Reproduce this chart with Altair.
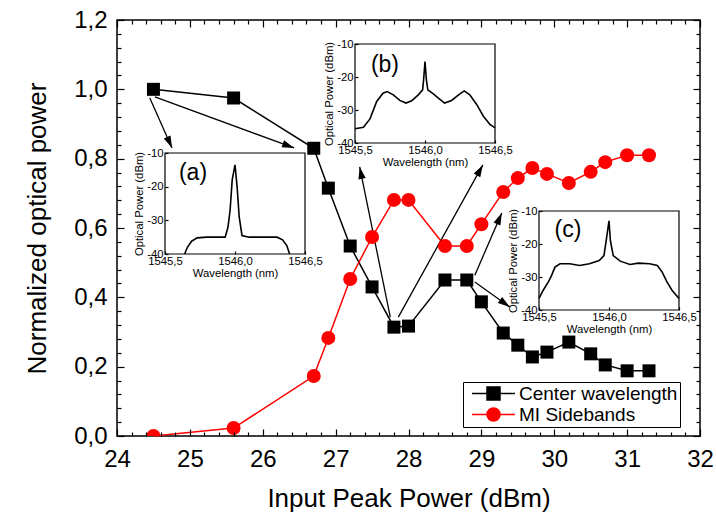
import math

import altair as alt
import pandas as pd

FONT = "Liberation Sans"

# ---------------------------------------------------------------------------
# Main panel: normalized optical power versus input peak power
# ---------------------------------------------------------------------------
input_power = [24.5, 25.6, 26.7, 26.9, 27.2, 27.5, 27.8, 28.0, 28.5, 28.8,
               29.0, 29.3, 29.5, 29.7, 29.9, 30.2, 30.5, 30.7, 31.0, 31.3]
center_wavelength = [1.0, 0.975, 0.83, 0.715, 0.548, 0.43, 0.314, 0.317, 0.45, 0.45,
                     0.387, 0.297, 0.262, 0.228, 0.242, 0.271, 0.237, 0.205, 0.188, 0.188]
mi_sidebands = [0.0, 0.023, 0.173, 0.283, 0.453, 0.574, 0.681, 0.681, 0.548, 0.548,
                0.611, 0.704, 0.744, 0.773, 0.756, 0.73, 0.762, 0.79, 0.81, 0.81]
series_names = ["Center wavelength", "MI Sidebands"]
series_colors = ["#000000", "#ff0000"]
series_shapes = ["square", "circle"]
series_sizes = [169, 196]

x_domain = [24, 32]
y_domain = [0, 1.2]
x_major = [24, 25, 26, 27, 28, 29, 30, 31, 32]
y_major = [0.0, 0.2, 0.4, 0.6, 0.8, 1.0, 1.2]
x_minor = [round(24 + 0.2 * i, 1) for i in range(41) if i % 5]
y_minor = [round(0.04 * i, 2) for i in range(31) if i % 5]

# Arrows linking measurement points to their spectra (axis units)
arrow_tail_x = [24.45, 24.52, 27.75, 27.86, 28.91, 28.91]
arrow_tail_y = [0.975, 0.978, 0.343, 0.343, 0.464, 0.444]
arrow_tip_x = [24.755, 26.43, 27.33, 29.02, 29.28, 29.39]
arrow_tip_y = [0.831, 0.831, 0.776, 0.782, 0.643, 0.372]

# ---------------------------------------------------------------------------
# Inset spectra (wavelength in nm, optical power in dBm)
# ---------------------------------------------------------------------------
inset_wl_domain = [1545.5, 1546.5]
inset_p_domain = [-40, -10]
inset_wl_ticks = [1545.5, 1546.0, 1546.5]
inset_p_ticks = [-40, -30, -20, -10]

wl_a = [1545.64, 1545.66, 1545.69, 1545.73, 1545.80, 1545.93, 1545.95, 1545.965,
        1545.98, 1546.0, 1546.015, 1546.03, 1546.05, 1546.10, 1546.30, 1546.34,
        1546.37, 1546.39]
p_a = [-40, -38, -36.2, -35.2, -35, -35, -32, -27, -18, -13.5, -20, -29, -34.5,
       -35, -35, -35.8, -37.5, -40]

wl_b = [1545.5, 1545.56, 1545.607, 1545.655, 1545.70, 1545.73, 1545.774, 1545.82,
        1545.864, 1545.905, 1545.952, 1545.983, 1545.99, 1546.0, 1546.01, 1546.02,
        1546.06, 1546.095, 1546.14, 1546.19, 1546.24, 1546.28, 1546.32, 1546.37,
        1546.417, 1546.464, 1546.5]
p_b = [-35.7, -35.2, -32.7, -27.4, -24.9, -24.4, -25.4, -27.1, -27.9, -27.2, -25.4,
       -23.9, -20.9, -15.3, -20.9, -23.9, -25.1, -26.4, -27.9, -27.1, -25.4, -24.2,
       -25.4, -28.4, -31.9, -34.4, -35.4]

wl_c = [1545.5, 1545.53, 1545.567, 1545.59, 1545.614, 1545.65, 1545.72, 1545.79,
        1545.86, 1545.93, 1545.964, 1545.98, 1546.0, 1546.01, 1546.03, 1546.08,
        1546.15, 1546.21, 1546.29, 1546.345, 1546.38, 1546.414, 1546.45, 1546.5]
p_c = [-36.5, -34, -31.5, -29.5, -27, -26, -26, -26.5, -26, -25, -23.5, -19, -13,
       -19, -23.5, -25.2, -26.2, -25.8, -26, -26.5, -28.5, -31.5, -34, -36.5]

# ---------------------------------------------------------------------------
# Layout
# ---------------------------------------------------------------------------
W, H = 583, 416
PAD = {"left": 117, "top": 20, "right": 16, "bottom": 81}

# inset boxes inside the plot area: left, top, right, bottom (pixels)
box_a = (48, 133, 188, 234)
box_b = (238, 24, 378, 123)
box_c = (422, 191, 562, 290)

COMMA_1F = "replace(format(datum.value, '.1f'), '.', ',')"

n = len(input_power)
main_df = pd.DataFrame({
    "power": input_power * 2,
    "value": center_wavelength + mi_sidebands,
    "series": [series_names[0]] * n + [series_names[1]] * n,
    "marker": [series_shapes[0]] * n + [series_shapes[1]] * n,
    "msize": [series_sizes[0]] * n + [series_sizes[1]] * n,
})

xs_main = alt.Scale(domain=x_domain, nice=False, zero=False)
ys_main = alt.Scale(domain=y_domain, nice=False, zero=False)
color_scale = alt.Scale(domain=series_names, range=series_colors)

# legend keys: a short line through the series marker
SQUARE_KEY = "M-3.3,0L3.3,0M-1,-1L1,-1L1,1L-1,1Z"
CIRCLE_KEY = "M-3.3,0L3.3,0M1,0A1,1,0,1,1,-1,0A1,1,0,1,1,1,0Z"
ARROW_HEAD = "M0,0L-0.62,2L0.62,2Z"

legend = alt.Legend(
    title=None,
    orient="none",
    legendX=346,
    legendY=362,
    symbolType=alt.ExprRef(expr=f"datum.value === '{series_names[0]}' ? '{SQUARE_KEY}' : '{CIRCLE_KEY}'"),
    symbolStrokeWidth=1.5,
    symbolSize=169,
    symbolOffset=19,
    labelOffset=16,
    labelFont=FONT,
    labelFontSize=19,
    labelColor="black",
    strokeColor="black",
    fillColor="white",
    padding=2,
    rowPadding=1,
)

x_main_axis = alt.Axis(
    orient="bottom", values=x_major, labelFlush=False, labelFontSize=24, labelPadding=11,
    ticks=False, tickSize=0, domain=False, grid=False,
    title="Input Peak Power (dBm)", titleFontSize=26, titlePadding=14,
)
y_main_axis = alt.Axis(
    orient="left", values=y_major, labelExpr=COMMA_1F, labelFontSize=24, labelPadding=10,
    ticks=False, tickSize=0, domain=False, grid=False,
    title="Normalized optical power", titleFontSize=26, titlePadding=23,
)

color_enc = alt.Color("series:N", scale=color_scale, legend=legend)

lines = alt.Chart(main_df).mark_line(strokeWidth=1.5).encode(
    x=alt.X("power:Q", scale=xs_main, axis=x_main_axis),
    y=alt.Y("value:Q", scale=ys_main, axis=y_main_axis),
    color=color_enc,
)
points = alt.Chart(main_df).mark_point(filled=True, opacity=1, clip=True).encode(
    x=alt.X("power:Q", scale=xs_main, axis=x_main_axis),
    y=alt.Y("value:Q", scale=ys_main, axis=y_main_axis),
    color=color_enc,
    shape=alt.Shape("marker:N", scale=None),
    size=alt.Size("msize:Q", scale=None),
)

# arrow shafts and heads
px_per_x = W / (x_domain[1] - x_domain[0])
px_per_y = H / (y_domain[1] - y_domain[0])
angles = []
for tx, ty, hx, hy in zip(arrow_tail_x, arrow_tail_y, arrow_tip_x, arrow_tip_y):
    dx = (hx - tx) * px_per_x
    dy = -(hy - ty) * px_per_y
    angles.append(math.degrees(math.atan2(dx, -dy)) % 360)
arrow_df = pd.DataFrame({"x0": arrow_tail_x, "y0": arrow_tail_y,
                         "x1": arrow_tip_x, "y1": arrow_tip_y, "angle": angles})

shafts = alt.Chart(arrow_df).mark_rule(color="black", strokeWidth=1.3).encode(
    x=alt.X("x0:Q", scale=xs_main, axis=x_main_axis), x2="x1",
    y=alt.Y("y0:Q", scale=ys_main, axis=y_main_axis), y2="y1",
)
heads = alt.Chart(arrow_df).mark_point(shape=ARROW_HEAD, filled=True, color="black",
                                       opacity=1, size=144).encode(
    x=alt.X("x1:Q", scale=xs_main, axis=x_main_axis),
    y=alt.Y("y1:Q", scale=ys_main, axis=y_main_axis),
    angle=alt.Angle("angle:Q", scale=None),
)

main = alt.layer(lines, shafts, heads, points)


def tick_axis(orient, offset, values, size):
    return alt.Axis(orient=orient, offset=offset, values=values, tickSize=size,
                    tickWidth=1.2, tickColor="black", labels=False, domain=False,
                    grid=False, title=None, zindex=1)


def frame_ticks(df, xf, yf, xscale, yscale, xvals, yvals, size, x_orient, x_off, y_orient, y_off):
    return alt.Chart(df).mark_point(opacity=0).encode(
        x=alt.X(xf, scale=xscale, axis=tick_axis(x_orient, x_off, xvals, size)),
        y=alt.Y(yf, scale=yscale, axis=tick_axis(y_orient, y_off, yvals, size)),
    )


# inward ticks on all four sides of the main frame
main_ticks = [
    frame_ticks(main_df, "power:Q", "value:Q", xs_main, ys_main, x_major, y_major, 7, "top", -H, "right", -W),
    frame_ticks(main_df, "power:Q", "value:Q", xs_main, ys_main, x_minor, y_minor, 4, "top", -H, "right", -W),
    frame_ticks(main_df, "power:Q", "value:Q", xs_main, ys_main, x_major, y_major, 7, "bottom", -H, "left", -W),
    frame_ticks(main_df, "power:Q", "value:Q", xs_main, ys_main, x_minor, y_minor, 4, "bottom", -H, "left", -W),
]


def inset(wl, pw, tag, tag_wl, tag_p, box):
    left, top, right, bottom = box
    xs = alt.Scale(domain=inset_wl_domain, range=[left, right], nice=False, zero=False)
    ys = alt.Scale(domain=inset_p_domain, range=[bottom, top], nice=False, zero=False)
    frame_df = pd.DataFrame({"x0": [inset_wl_domain[0]], "x1": [inset_wl_domain[1]],
                             "y0": [inset_p_domain[0]], "y1": [inset_p_domain[1]]})
    x_axis = alt.Axis(orient="bottom", offset=bottom - H, values=inset_wl_ticks,
                      labelExpr=COMMA_1F, labelFontSize=11.3, labelPadding=1,
                      labelFlush=False, ticks=False, tickSize=0, domain=False, grid=False,
                      title="Wavelength (nm)", titleFontSize=11.3, titlePadding=1, zindex=1)
    y_axis = alt.Axis(orient="left", offset=-left, values=inset_p_ticks,
                      labelExpr="'' + datum.value", labelFontSize=11.3, labelPadding=2,
                      ticks=False, tickSize=0, domain=False, grid=False,
                      title="Optical Power (dBm)", titleFontSize=11.3, titlePadding=2, zindex=1)
    frame = alt.Chart(frame_df).mark_rect(fill="white", stroke="black", strokeWidth=1.2).encode(
        x=alt.X("x0:Q", scale=xs, axis=x_axis), x2="x1",
        y=alt.Y("y0:Q", scale=ys, axis=y_axis), y2="y1",
    )
    curve = alt.Chart(pd.DataFrame({"wl": wl, "p": pw})).mark_line(
        color="black", strokeWidth=1.6).encode(
        x=alt.X("wl:Q", scale=xs, axis=x_axis),
        y=alt.Y("p:Q", scale=ys, axis=y_axis),
    )
    label = alt.Chart(pd.DataFrame({"wl": [tag_wl], "p": [tag_p], "t": [tag]})).mark_text(
        font=FONT, fontSize=23, color="black").encode(
        x=alt.X("wl:Q", scale=xs, axis=x_axis),
        y=alt.Y("p:Q", scale=ys, axis=y_axis),
        text="t:N",
    )
    ticks = frame_ticks(frame_df, "x0:Q", "y0:Q", xs, ys, inset_wl_ticks, inset_p_ticks, 3,
                        "top", -bottom, "right", left - W)
    return [alt.layer(frame, curve, label), ticks]


layers = [main] + main_ticks
layers += inset(wl_a, p_a, "(a)", 1545.70, -15.9, box_a)
layers += inset(wl_b, p_b, "(b)", 1545.714, -16.4, box_b)
layers += inset(wl_c, p_c, "(c)", 1545.707, -15.8, box_c)

chart = alt.layer(*layers).resolve_scale(
    x="independent", y="independent"
).properties(
    width=W, height=H, padding=PAD, autosize=alt.AutoSizeParams(type="none"),
).configure(
    font=FONT,
).configure_view(
    stroke="black", strokeWidth=1.5,
).configure_axis(
    labelFont=FONT, titleFont=FONT, labelColor="black", titleColor="black",
    titleFontWeight="normal",
)

chart.save("out.html", embed_options={"renderer": "svg", "actions": False})
